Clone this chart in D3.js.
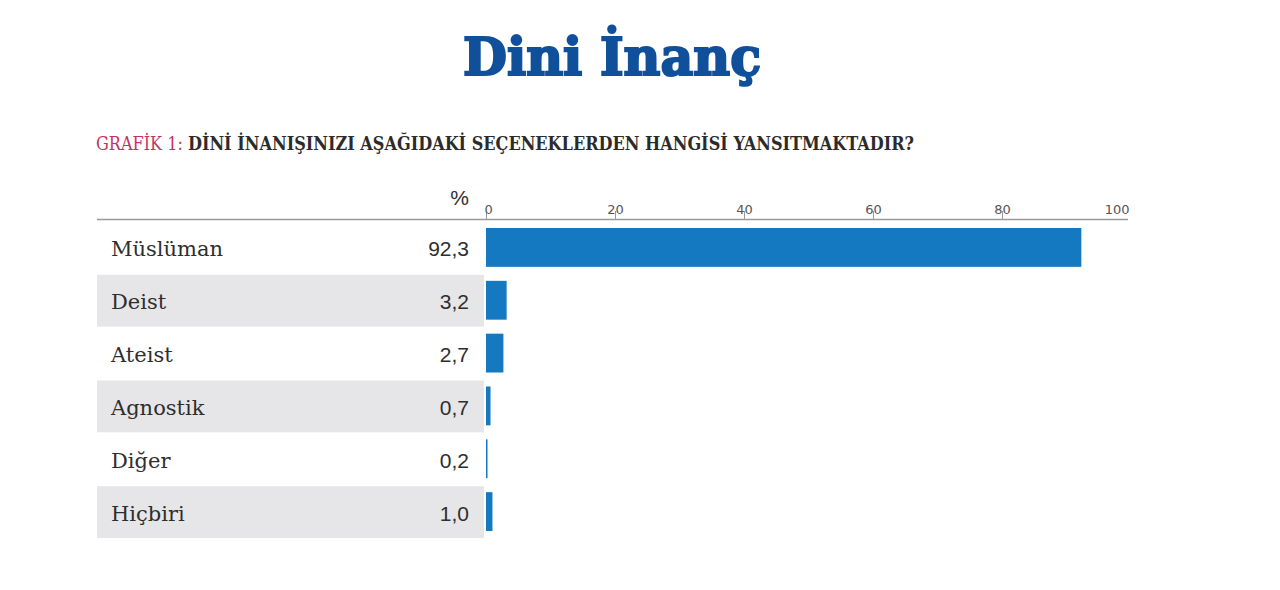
<!DOCTYPE html>
<html>
<head>
<meta charset="utf-8">
<script src="https://cdn.jsdelivr.net/npm/d3@7"></script>
<style>
  body { margin: 0; background: #fff; }
  .title { font-family: "DejaVu Serif"; font-weight: bold; fill: #10509b; stroke: #10509b; stroke-width: 2.2; }
  .sub { font-family: "DejaVu Serif Condensed", "DejaVu Serif"; font-weight: bold; fill: #2b2b2b; }
  .subred { fill: #c2345f; font-weight: normal; }
  .label { font-family: "DejaVu Serif"; fill: #2e2e2e; }
  .value { font-family: "Liberation Sans", Arial; fill: #2e2e2e; }
  .tick text { font-family: "DejaVu Sans"; fill: #555; }
</style>
</head>
<body>
<div class="chart"></div>
<script>
var categories = ["Müslüman", "Deist", "Ateist", "Agnostik", "Diğer", "Hiçbiri"];
var values = [92.3, 3.2, 2.7, 0.7, 0.2, 1.0];
var valueLabels = ["92,3", "3,2", "2,7", "0,7", "0,2", "1,0"];
var tickValues = [0, 20, 40, 60, 80, 100];

var width = 1280
var height = 590

var svg = d3.select(".chart").append("svg")
            .attr("width", width)
            .attr("height", height);

svg.append("text")
   .attr("x", 612)
   .attr("y", 75)
   .attr("text-anchor", "middle")
   .attr("class", "title")
   .attr("font-size", 52)
   .attr("textLength", 298)
   .attr("lengthAdjust", "spacingAndGlyphs")
   .text("Dini İnanç");

var sub = svg.append("text")
   .attr("x", 96)
   .attr("y", 150)
   .attr("class", "sub")
   .attr("font-size", 18)
   .attr("textLength", 818)
   .attr("lengthAdjust", "spacingAndGlyphs");
sub.append("tspan").attr("class", "subred").text("GRAFİK 1: ");
sub.append("tspan").text("DİNİ İNANIŞINIZI AŞAĞIDAKİ SEÇENEKLERDEN HANGİSİ YANSITMAKTADIR?");

var x = d3.scaleLinear().domain([0, 100]).range([486, 1131]);
var y = d3.scaleBand().domain(categories).range([221, 538]).paddingInner(0);

// alternating row backgrounds
svg.selectAll("rect.row")
   .data(categories)
   .enter()
   .append("rect")
   .attr("class", "row")
   .attr("x", 97)
   .attr("y", function(d) { return y(d) + 1; })
   .attr("width", 387)
   .attr("height", y.bandwidth() - 1)
   .attr("fill", function(d, i) { return i % 2 ? "#e6e6e8" : "#fff"; });

// axis
var axis = svg.append("g")
   .attr("transform", "translate(0,219)")
   .call(d3.axisTop(x).tickValues(tickValues).tickSize(8).tickSizeOuter(0));
axis.select(".domain").remove();
axis.selectAll(".tick line")
    .attr("stroke", "#999")
    .attr("display", function(d) { return d === 100 ? "none" : null; });
axis.selectAll(".tick text")
    .attr("font-size", 13)
    .attr("dy", 0)
    .attr("y", -5)
    .attr("text-anchor", function(d) { return d === 0 ? "start" : (d === 100 ? "end" : "middle"); })
    .attr("dx", function(d) { return d === 100 ? -2 : (d === 0 ? -2 : 0); });

svg.append("line")
   .attr("x1", 97)
   .attr("x2", 1128)
   .attr("y1", 219.5)
   .attr("y2", 219.5)
   .attr("stroke", "#999")
   .attr("stroke-width", 1.5);

svg.append("text")
   .attr("x", 469)
   .attr("y", 205)
   .attr("text-anchor", "end")
   .attr("class", "value")
   .attr("font-size", 21)
   .attr("fill", "#555")
   .text("%");

// bars
svg.selectAll("rect.bar")
   .data(values)
   .enter()
   .append("rect")
   .attr("class", "bar")
   .attr("x", x(0))
   .attr("y", function(d, i) { return y(categories[i]) + 7; })
   .attr("width", function(d) { return Math.max(x(d) - x(0), 1.5); })
   .attr("height", y.bandwidth() - 14)
   .attr("fill", "#1479c0");

svg.selectAll("text.label")
   .data(categories)
   .enter()
   .append("text")
   .attr("class", "label")
   .attr("x", 111)
   .attr("y", function(d) { return y(d) + y.bandwidth() / 2 + 9; })
   .attr("font-size", 21)
   .text(function(d) { return d; });

svg.selectAll("text.val")
   .data(valueLabels)
   .enter()
   .append("text")
   .attr("class", "value val")
   .attr("x", 469)
   .attr("text-anchor", "end")
   .attr("y", function(d, i) { return y(categories[i]) + y.bandwidth() / 2 + 9; })
   .attr("font-size", 21)
   .text(function(d) { return d; });
</script>
</body>
</html>
